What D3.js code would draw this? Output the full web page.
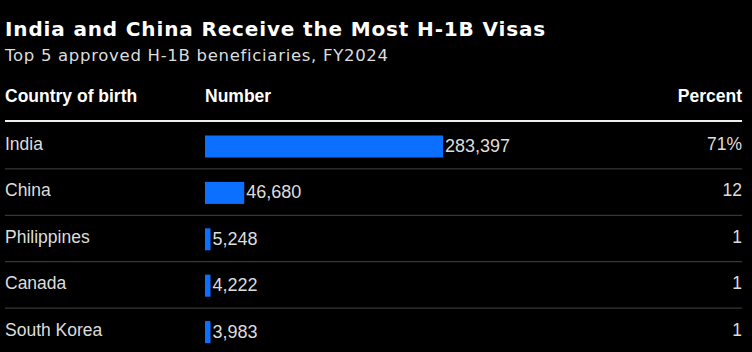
<!DOCTYPE html>
<html>
<head>
<meta charset="utf-8">
<script src="https://cdn.jsdelivr.net/npm/d3@7"></script>
<style>
  html, body { margin: 0; padding: 0; background: #000; }
  svg { display: block; }
</style>
</head>
<body>
<svg id="chart"></svg>
<script>
// Data
const countries = ["India", "China", "Philippines", "Canada", "South Korea"];
const counts = [283397, 46680, 5248, 4222, 3983];
const percents = ["71%", "12", "1", "1", "1"];

const width = 752, height = 352;
const left = 5, right = 742;
const barX = 205;

const svg = d3.select("#chart").attr("width", width).attr("height", height);
svg.append("rect").attr("width", width).attr("height", height).attr("fill", "#000");

// Title and subtitle
svg.append("text")
   .attr("x", left).attr("y", 36)
   .attr("fill", "#fff")
   .style("font", "bold 20px 'DejaVu Sans'")
   .style("letter-spacing", "0.85px")
   .text("India and China Receive the Most H-1B Visas");

svg.append("text")
   .attr("x", left).attr("y", 61)
   .attr("fill", "#ddd")
   .style("font", "16.5px 'DejaVu Sans'")
   .style("letter-spacing", "0.7px")
   .text("Top 5 approved H-1B beneficiaries, FY2024");

// Column headers
const headFont = "bold 17.5px 'Liberation Sans', Arial, sans-serif";
svg.append("text").attr("x", left).attr("y", 102).attr("fill", "#fff")
   .style("font", headFont).text("Country of birth");
svg.append("text").attr("x", barX).attr("y", 102).attr("fill", "#fff")
   .style("font", headFont).text("Number");
svg.append("text").attr("x", right).attr("y", 102).attr("fill", "#fff")
   .attr("text-anchor", "end").style("font", headFont).text("Percent");

svg.append("line")
   .attr("x1", left).attr("x2", right).attr("y1", 121).attr("y2", 121)
   .attr("stroke", "#eee").attr("stroke-width", 2);

// Scales
const x = d3.scaleLinear().domain([0, counts[0]]).range([0, 238]);
const y = d3.scaleBand().domain(countries).range([123, 355]).paddingInner(0).paddingOuter(0);

const rows = svg.selectAll(".row")
   .data(countries)
   .enter()
   .append("g")
   .attr("class", "row")
   .attr("transform", d => `translate(0,${y(d)})`);

const rowFont = "17.5px 'Liberation Sans', Arial, sans-serif";

rows.append("text")
    .attr("x", left).attr("y", 27)
    .attr("fill", "#ddd")
    .style("font", rowFont)
    .text(d => d);

rows.append("rect")
    .attr("x", barX).attr("y", 12.5)
    .attr("width", (d, i) => Math.max(5.5, x(counts[i])))
    .attr("height", 22)
    .attr("fill", "#0b70ff");

rows.append("text")
    .attr("x", (d, i) => barX + Math.max(5.5, x(counts[i])) + 2)
    .attr("y", 29)
    .attr("fill", "#ddd")
    .style("font", "18px 'Liberation Sans', Arial, sans-serif")
    .text((d, i) => d3.format(",")(counts[i]));

rows.append("text")
    .attr("x", right).attr("y", 27)
    .attr("text-anchor", "end")
    .attr("fill", "#ddd")
    .style("font", rowFont)
    .text((d, i) => percents[i]);

rows.filter((d, i) => i < countries.length - 1)
    .append("line")
    .attr("x1", left).attr("x2", right)
    .attr("y1", y.bandwidth() - 0.5).attr("y2", y.bandwidth() - 0.5)
    .attr("stroke", "#444").attr("stroke-width", 1);
</script>
</body>
</html>
